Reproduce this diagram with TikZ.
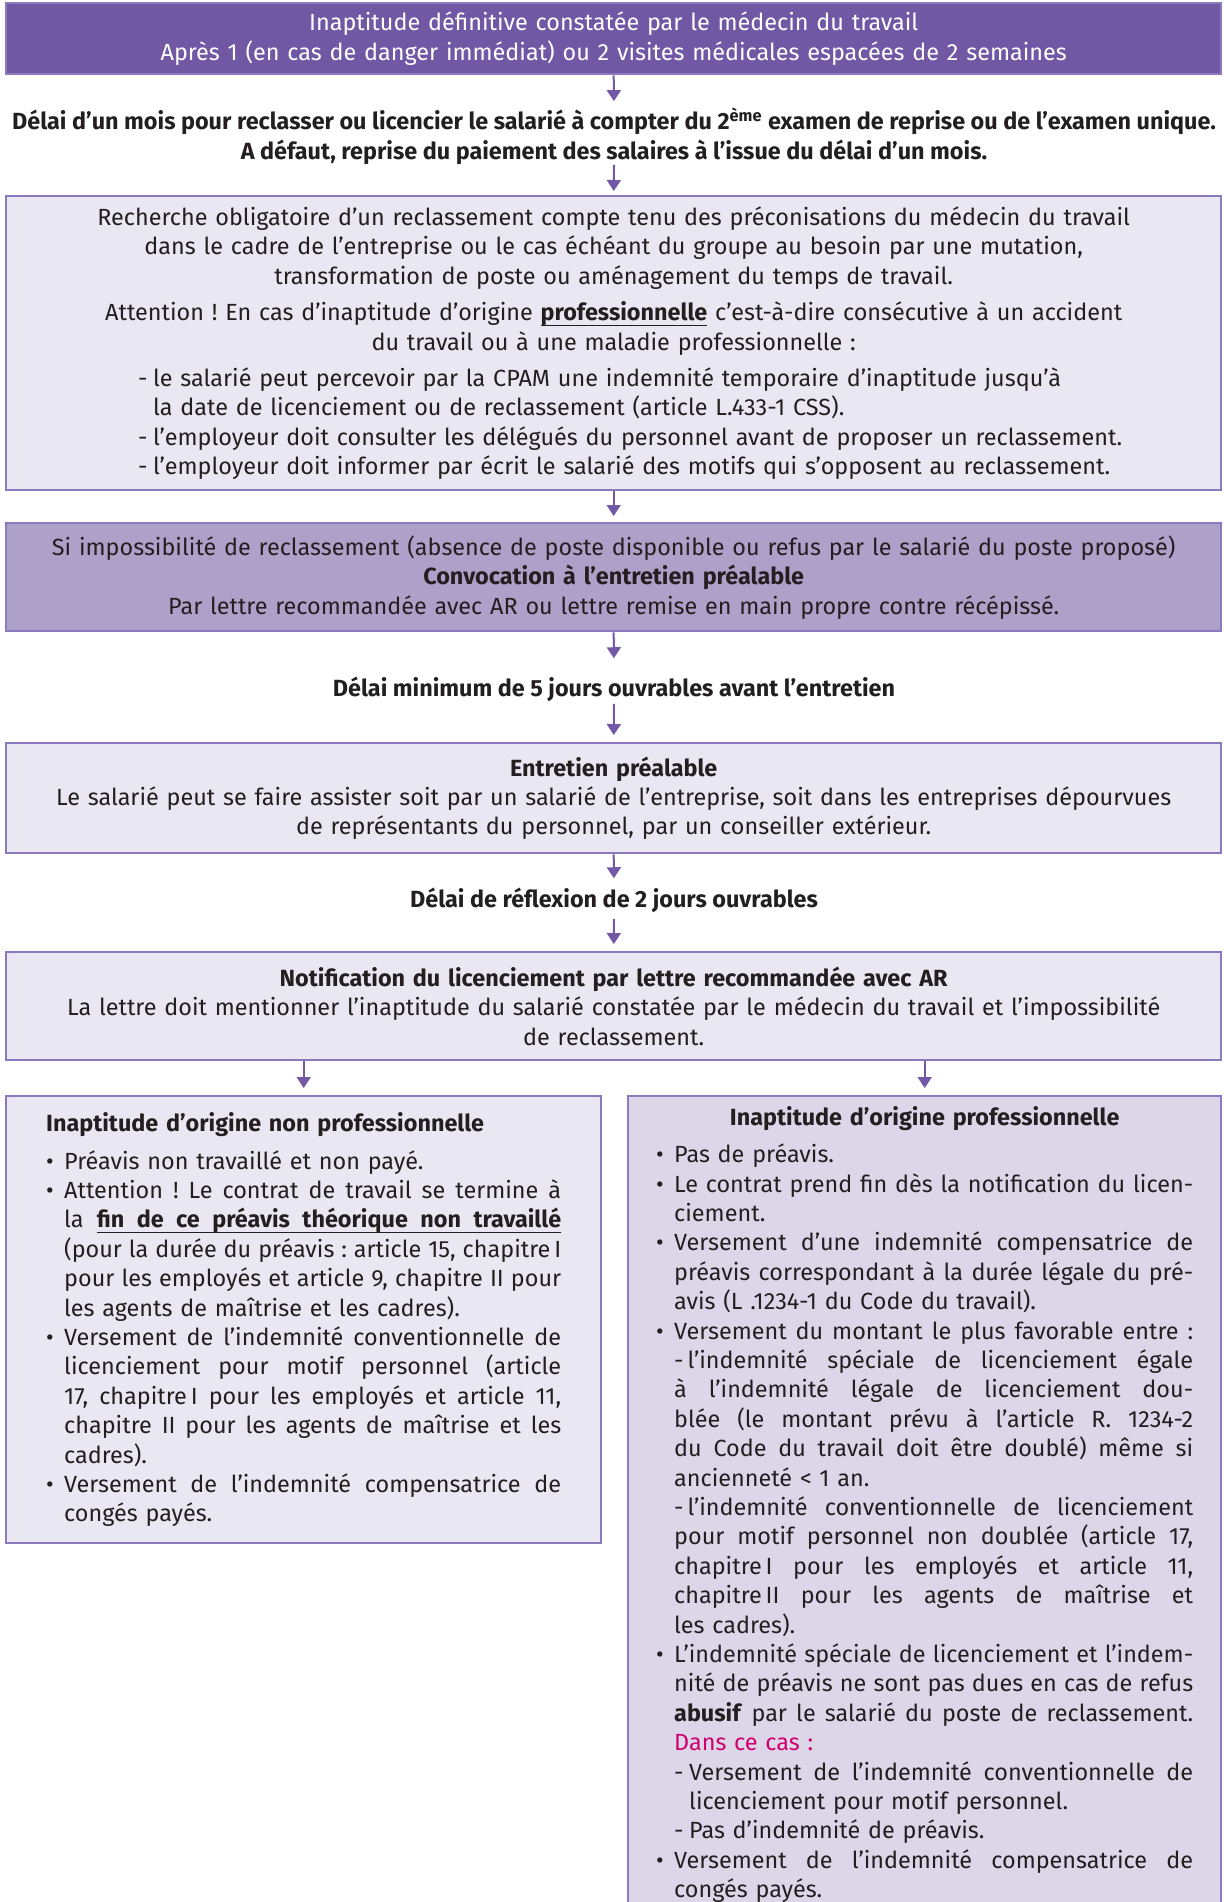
\documentclass[tikz,border=0pt]{standalone}
\usepackage{fontspec}
\setmainfont{Fira Sans}
\usetikzlibrary{arrows.meta}

\definecolor{violetfonce}{RGB}{113,88,164}
\definecolor{violetbord}{RGB}{139,122,190}
\definecolor{violetmoyen}{RGB}{173,161,201}
\definecolor{violetclair}{RGB}{233,231,241}
\definecolor{violetpale}{RGB}{220,214,232}
\definecolor{fleche}{RGB}{115,88,166}
\definecolor{texte}{RGB}{35,31,32}
\definecolor{rose}{RGB}{208,0,111}

% lignes composees a la main
\newlength\indw \setlength\indw{9pt}
\newlength\tirw \setlength\tirw{7.5pt}
\newcommand\espaces{\spaceskip=\fontdimen2\font plus 1fil\relax\xspaceskip=\spaceskip}
\newcommand\lignej[2]{\hbox to\linewidth{\espaces#1#2}}
\newcommand\lignef[2]{\hbox to\linewidth{#1#2\hfil}}
\newcommand\ligc[1]{\hbox to\linewidth{\hfil#1\hfil}}
\newcommand\puce{\hbox to\indw{\textbullet\hfil}}
\newcommand\retrait{\hskip\indw}
\newcommand\tiret{\hskip\indw\hbox to\tirw{-\hfil}}
\newcommand\retraitt{\hskip\indw\hskip\tirw}
% soulignement
\newcommand\uw[1]{\setbox0\hbox{#1}\rlap{\vrule height-2.2pt depth2.8pt width\wd0}\box0}
\newcommand\usp{\leaders\hrule height-2.2pt depth2.8pt\hskip\fontdimen2\font plus 1fil}

\tikzset{
  boite/.style={draw=violetbord, fill=violetclair, line width=1.2pt, inner sep=0pt,
    anchor=north west, text width=607.5pt, text=texte,
    font=\fontsize{11.7}{14.7}\selectfont\frenchspacing},
  delai/.style={align=center, inner sep=0pt, text=texte,
    font=\fontsize{11.7}{14.7}\selectfont\bfseries\frenchspacing},
  fl/.style={draw=fleche, line width=1pt, -{Triangle[width=7pt,length=5.5pt]}}
}

\begin{document}
\begin{tikzpicture}[x=0.5pt, y=-0.5pt]
  \useasboundingbox (0,0) rectangle (1224,1902);
  \clip (0,0) rectangle (1224,1902);

  \node[boite, fill=violetfonce, text=white, minimum height=35.5pt] (constat) at (5,2) {%
    \ligc{Inaptitude définitive constatée par le médecin du travail}
    \ligc{Après 1 (en cas de danger immédiat) ou 2 visites médicales espacées de 2 semaines}};

  \node[delai] (delai1) at (614,136) {Délai d'un mois pour reclasser ou licencier le salarié à compter du 2\textsuperscript{ème} examen de reprise ou de l'examen unique.\\
    A défaut, reprise du paiement des salaires à l'issue du délai d'un mois.};

  \node[boite, minimum height=147pt] (recherche) at (5,195) {%
    \ligc{Recherche obligatoire d'un reclassement compte tenu des préconisations du médecin du travail}
    \ligc{dans le cadre de l'entreprise ou le cas échéant du groupe au besoin par une mutation,}
    \ligc{transformation de poste ou aménagement du temps de travail.}
    \vskip3.5pt
    \ligc{Attention ! En cas d'inaptitude d'origine \textbf{\uw{professionnelle}} c'est-à-dire consécutive à un accident}
    \ligc{du travail ou à une maladie professionnelle :}
    \vskip3.5pt
    \lignef{\hskip66pt\hbox to\tirw{-\hfil}}{le salarié peut percevoir par la CPAM une indemnité temporaire d'inaptitude jusqu'à}
    \lignef{\hskip66pt\hskip\tirw}{la date de licenciement ou de reclassement (article L.433-1 CSS).}
    \lignef{\hskip66pt\hbox to\tirw{-\hfil}}{l'employeur doit consulter les délégués du personnel avant de proposer un reclassement.}
    \lignef{\hskip66pt\hbox to\tirw{-\hfil}}{l'employeur doit informer par écrit le salarié des motifs qui s'opposent au reclassement.}};

  \node[boite, fill=violetmoyen, minimum height=54pt] (impossible) at (5,522) {%
    \ligc{Si impossibilité de reclassement (absence de poste disponible ou refus par le salarié du poste proposé)}
    \ligc{\textbf{Convocation à l'entretien préalable}}
    \ligc{Par lettre recommandée avec AR ou lettre remise en main propre contre récépissé.}};

  \node[delai] (delai2) at (614,689) {Délai minimum de 5 jours ouvrables avant l'entretien};

  \node[boite, minimum height=55pt] (entretien) at (5,742) {%
    \ligc{\textbf{Entretien préalable}}
    \ligc{Le salarié peut se faire assister soit par un salarié de l'entreprise, soit dans les entreprises dépourvues}
    \ligc{de représentants du personnel, par un conseiller extérieur.}};

  \node[delai] (delai3) at (614,900) {Délai de réflexion de 2 jours ouvrables};

  \node[boite, minimum height=54pt] (notification) at (5,951) {%
    \ligc{\textbf{Notification du licenciement par lettre recommandée avec AR}}
    \ligc{La lettre doit mentionner l'inaptitude du salarié constatée par le médecin du travail et l'impossibilité}
    \ligc{de reclassement.}};

  \node[boite, text width=257.5pt, inner xsep=20pt, minimum height=223.5pt] (nonpro) at (5,1095) {%
    \lignef{}{\textbf{Inaptitude d'origine non professionnelle}}
    \vskip4pt
    \lignef{\puce}{Préavis non travaillé et non payé.}
    \lignej{\puce}{Attention ! Le contrat de travail se termine à}
    \lignej{\retrait}{la \textbf{\uw{fin}\usp\uw{de}\usp\uw{ce}\usp\uw{préavis}\usp\uw{théorique}\usp\uw{non}\usp\uw{travaillé}}}
    \lignej{\retrait}{(pour la durée du préavis : article 15, chapitre\,I}
    \lignej{\retrait}{pour les employés et article 9, chapitre II pour}
    \lignef{\retrait}{les agents de maîtrise et les cadres).}
    \lignej{\puce}{Versement de l'indemnité conventionnelle de}
    \lignej{\retrait}{licenciement pour motif personnel (article}
    \lignej{\retrait}{17, chapitre\,I pour les employés et article 11,}
    \lignej{\retrait}{chapitre II pour les agents de maîtrise et les}
    \lignef{\retrait}{cadres).}
    \lignej{\puce}{Versement de l'indemnité compensatrice de}
    \lignef{\retrait}{congés payés.}};

  \node[boite, fill=violetpale, text width=268.5pt, inner xsep=14pt] (pro) at (627,1095) {%
    \ligc{\rule{0pt}{14.5pt}\textbf{Inaptitude d'origine professionnelle}}
    \vskip4pt
    \lignef{\puce}{Pas de préavis.}
    \lignej{\puce}{Le contrat prend fin dès la notification du licen-}
    \lignef{\retrait}{ciement.}
    \lignej{\puce}{Versement d'une indemnité compensatrice de}
    \lignej{\retrait}{préavis correspondant à la durée légale du pré-}
    \lignef{\retrait}{avis (L .1234-1 du Code du travail).}
    \lignej{\puce}{Versement du montant le plus favorable entre :}
    \lignej{\retrait}{-\,l'indemnité spéciale de licenciement égale}
    \lignej{\retrait}{à l'indemnité légale de licenciement dou-}
    \lignej{\retrait}{blée (le montant prévu à l'article R. 1234-2}
    \lignej{\retrait}{du Code du travail doit être doublé) même si}
    \lignef{\retrait}{ancienneté < 1 an.}
    \lignej{\retrait}{-\,l'indemnité conventionnelle de licenciement}
    \lignej{\retrait}{pour motif personnel non doublée (article 17,}
    \lignej{\retrait}{chapitre\,I pour les employés et article 11,}
    \lignej{\retrait}{chapitre\,II pour les agents de maîtrise et}
    \lignef{\retrait}{les cadres).}
    \lignej{\puce}{L'indemnité spéciale de licenciement et l'indem-}
    \lignej{\retrait}{nité de préavis ne sont pas dues en cas de refus}
    \lignej{\retrait}{\textbf{abusif} par le salarié du poste de reclassement.}
    \lignef{\retrait}{\textcolor{rose}{Dans ce cas :}}
    \lignej{\tiret}{Versement de l'indemnité conventionnelle de}
    \lignef{\retraitt}{licenciement pour motif personnel.}
    \lignef{\tiret}{Pas d'indemnité de préavis.}
    \lignej{\puce}{Versement de l'indemnité compensatrice de}
    \lignef{\retrait}{congés payés.}
    \vskip20pt\null\vskip10pt\null};

  % fleches
  \draw[fl, shorten >=3pt] (constat.south) -- (delai1.north);
  \draw[fl, shorten >=2pt] (delai1.south) -- (recherche.north);
  \draw[fl, shorten >=3pt] (recherche.south) -- (impossible.north);
  \draw[fl, shorten >=9pt] (impossible.south) -- (delai2.north);
  \draw[fl, shorten <=1pt, shorten >=3.5pt] (delai2.south) -- (entretien.north);
  \draw[fl, shorten >=4.5pt] (entretien.south) -- (delai3.north);
  \draw[fl, shorten <=3pt, shorten >=3.5pt] (delai3.south) -- (notification.north);
  \draw[fl, shorten >=3.5pt] (notification.south -| nonpro.north) -- (nonpro.north);
  \draw[fl, shorten >=3.5pt] (notification.south -| pro.north) -- (pro.north);
\end{tikzpicture}
\end{document}
